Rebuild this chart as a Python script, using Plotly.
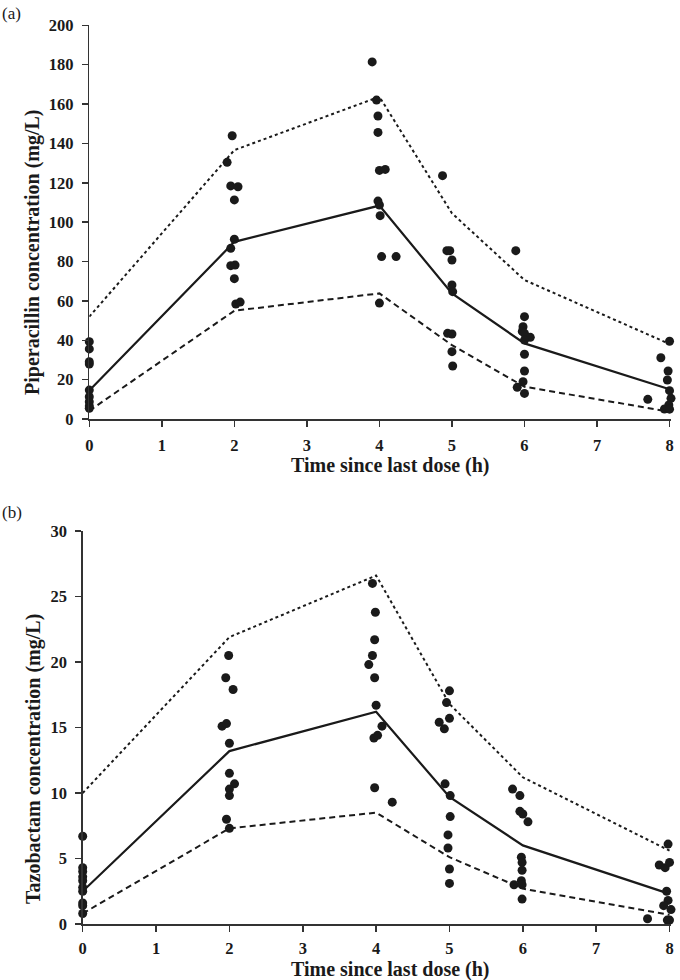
import plotly.graph_objects as go

# ---------------- data ----------------
nominal_times = [0, 2, 4, 5, 6, 8]

pip_median = [14.5, 90.0, 108.4, 63.8, 38.4, 15.1]
pip_upper = [52.0, 136.6, 163.7, 104.5, 70.6, 38.1]
pip_lower = [4.2, 55.0, 63.8, 37.5, 16.4, 3.7]

pip_obs_t = [0, 0, 0, 0, 0, 0, 0, 0, 0,
             1.97, 1.90, 1.95, 2.05, 2.00, 2.00, 1.95, 1.95, 2.01, 2.00, 2.02, 2.08,
             3.90, 3.96, 3.98, 3.98, 4.00, 4.08, 3.98, 4.00, 4.01, 4.03, 4.23, 4.00,
             4.87, 4.93, 4.97, 5.00, 5.00, 5.01, 4.94, 5.00, 5.00, 5.01,
             5.88, 6.00, 5.98, 5.97, 6.00, 6.08, 6.00, 6.00, 6.00, 5.98, 5.90, 6.00,
             8.00, 7.88, 7.98, 7.97, 8.00, 8.02, 7.70, 7.99, 7.93, 8.00]
pip_obs_c = [39.3, 35.6, 29.1, 27.9, 14.7, 11.3, 8.8, 6.6, 5.4,
             143.9, 130.4, 118.4, 118.0, 111.3, 91.3, 86.7, 77.9, 78.2, 71.3, 58.4, 59.4,
             181.4, 162.0, 153.9, 145.6, 126.3, 126.8, 110.7, 108.7, 103.3, 82.5, 82.5, 58.9,
             123.6, 85.5, 85.5, 80.8, 68.1, 64.7, 43.5, 43.2, 34.2, 26.9,
             85.5, 52.0, 46.9, 44.5, 43.5, 41.5, 40.1, 32.9, 24.4, 18.9, 16.1, 13.0,
             39.5, 31.1, 24.4, 19.8, 14.4, 10.5, 10.0, 7.1, 5.1, 5.0]

tazo_median = [2.5, 13.2, 16.2, 9.7, 6.0, 2.3]
tazo_upper = [10.0, 21.9, 26.6, 16.8, 11.2, 5.6]
tazo_lower = [0.8, 7.3, 8.5, 5.1, 2.7, 0.7]

tazo_obs_t = [0, 0, 0, 0, 0, 0, 0, 0, 0, 0,
              1.99, 1.95, 2.05, 1.90, 1.96, 2.00, 2.00, 2.07, 2.00, 2.00, 1.96, 2.00,
              3.95, 3.99, 3.98, 3.95, 3.90, 3.98, 4.00, 4.08, 3.97, 4.02, 3.98, 4.22,
              5.00, 4.96, 5.00, 4.86, 4.93, 4.94, 5.01, 5.01, 4.98, 4.98, 5.00, 5.00,
              5.86, 5.96, 5.96, 6.00, 6.07, 5.98, 5.99, 5.99, 5.98, 5.88, 5.99, 5.99,
              7.98, 7.86, 7.94, 8.00, 7.96, 7.98, 7.92, 8.02, 7.70, 7.97, 8.00]
tazo_obs_c = [6.7, 4.3, 4.0, 3.6, 3.3, 2.8, 2.5, 1.6, 1.4, 0.8,
              20.5, 18.8, 17.9, 15.1, 15.3, 13.8, 11.5, 10.7, 10.3, 9.8, 8.0, 7.3,
              26.0, 23.8, 21.7, 20.5, 19.8, 18.8, 16.7, 15.1, 14.2, 14.4, 10.4, 9.3,
              17.8, 16.9, 15.7, 15.4, 14.9, 10.7, 9.8, 8.2, 6.8, 5.8, 4.2, 3.1,
              10.3, 9.8, 8.6, 8.4, 7.8, 5.1, 4.7, 4.1, 3.3, 3.0, 3.0, 1.9,
              6.1, 4.5, 4.3, 4.7, 2.5, 1.8, 1.4, 1.1, 0.4, 0.3, 0.3]

x_ticks = [0, 1, 2, 3, 4, 5, 6, 7, 8]
pip_y_ticks = [0, 20, 40, 60, 80, 100, 120, 140, 160, 180, 200]
tazo_y_ticks = [0, 5, 10, 15, 20, 25, 30]

# ---------------- figure ----------------
W, H = 680, 980
INK = "#1a1a1a"
FONT = "Liberation Serif, Times New Roman, serif"

fig = go.Figure()


def add_panel(xa, ya, obs_t, obs_c, med, up, lo):
    common = dict(xaxis=xa, yaxis=ya, showlegend=False, hoverinfo="skip", cliponaxis=False)
    fig.add_trace(go.Scatter(x=nominal_times, y=up, mode="lines",
                             line=dict(color=INK, width=2, dash="dot"), **common))
    fig.add_trace(go.Scatter(x=nominal_times, y=lo, mode="lines",
                             line=dict(color=INK, width=2, dash="6px,4px"), **common))
    fig.add_trace(go.Scatter(x=nominal_times, y=med, mode="lines",
                             line=dict(color=INK, width=2.2), **common))
    fig.add_trace(go.Scatter(x=obs_t, y=obs_c, mode="markers",
                             marker=dict(color=INK, size=9, line=dict(width=0)), **common))


add_panel("x", "y", pip_obs_t, pip_obs_c, pip_median, pip_upper, pip_lower)
add_panel("x2", "y2", tazo_obs_t, tazo_obs_c, tazo_median, tazo_upper, tazo_lower)


def px_x(p):
    return p / W


def px_y(p):
    return 1 - p / H


def bold(vals):
    return ["<b>%s</b>" % v for v in vals]


axis_common = dict(
    automargin=False,
    showgrid=False, zeroline=False, showline=True, linecolor="#333333", linewidth=1.5,
    ticks="outside", ticklen=6, tickwidth=1.5, tickcolor="#333333",
    tickfont=dict(family=FONT, size=16.5, color=INK),
)

fig.update_layout(
    template="none",
    width=W, height=H,
    margin=dict(l=0, r=0, t=0, b=0, autoexpand=False),
    paper_bgcolor="white", plot_bgcolor="white",
    font=dict(family=FONT, color=INK),
    xaxis=dict(domain=[px_x(89.3), px_x(671)], range=[0, 8.02], ticklabelstandoff=5,
               tickvals=x_ticks, ticktext=bold(x_ticks), anchor="y", **axis_common),
    yaxis=dict(domain=[px_y(419), px_y(25.3)], range=[0, 200], ticklabelstandoff=5,
               tickvals=pip_y_ticks, ticktext=bold(pip_y_ticks), anchor="x", **axis_common),
    xaxis2=dict(domain=[px_x(82.7), px_x(671)], range=[0, 8.02], ticklabelstandoff=3,
                tickvals=x_ticks, ticktext=bold(x_ticks), anchor="y2", **axis_common),
    yaxis2=dict(domain=[px_y(924), px_y(531)], range=[0, 30], ticklabelstandoff=5,
                tickvals=tazo_y_ticks, ticktext=bold(tazo_y_ticks), anchor="x2", **axis_common),
)

title_font = dict(family=FONT, size=20, color=INK)
ann = [
    dict(text="(a)", x=px_x(0), y=px_y(14), xanchor="left", yanchor="middle",
         font=dict(family=FONT, size=17, color=INK)),
    dict(text="(b)", x=px_x(0), y=px_y(512), xanchor="left", yanchor="middle",
         font=dict(family=FONT, size=17, color=INK)),
    dict(text="<b>Time since last dose (h)</b>", x=px_x(391), y=px_y(465),
         xanchor="center", yanchor="middle", font=title_font),
    dict(text="<b>Time since last dose (h)</b>", x=px_x(391), y=px_y(969.5),
         xanchor="center", yanchor="middle", font=title_font),
    dict(text="<b>Piperacillin concentration (mg/L)</b>", x=px_x(33), y=px_y(252),
         xanchor="center", yanchor="middle", textangle=-90, font=title_font),
    dict(text="<b>Tazobactam concentration (mg/L)</b>", x=px_x(33), y=px_y(759),
         xanchor="center", yanchor="middle", textangle=-90, font=title_font),
]
for a in ann:
    a.update(xref="paper", yref="paper", showarrow=False)
fig.update_layout(annotations=ann)

# remove the default page margin so the 680x980 figure fills the window exactly
fig.write_html("out.html",
               config={"displayModeBar": False, "staticPlot": True},
               post_script="document.body.style.margin='0';document.body.style.padding='0';")
